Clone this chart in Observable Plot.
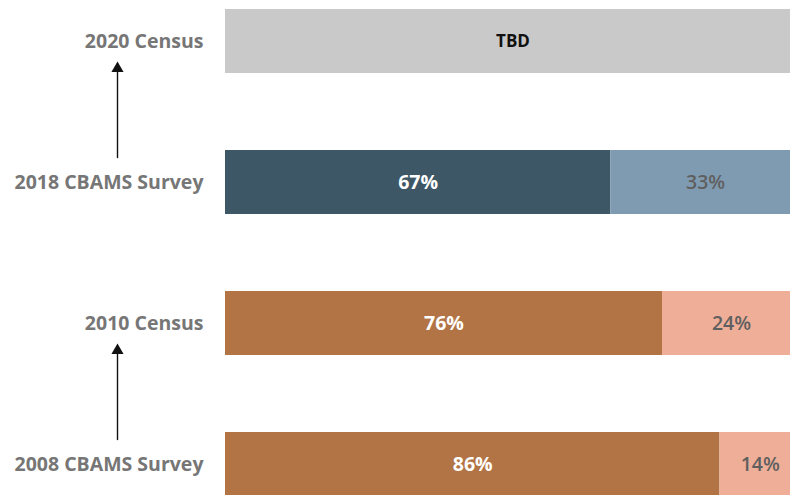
<!DOCTYPE html>
<html>
<head>
<meta charset="utf-8">
<script src="https://cdn.jsdelivr.net/npm/d3@7"></script>
<script src="https://cdn.jsdelivr.net/npm/@observablehq/plot@0.6"></script>
<style>
  html, body { margin: 0; padding: 0; background: #fff; overflow: hidden; }
  #chart svg { display: block; }
</style>
</head>
<body>
<div id="chart"></div>
<script>
// Rows (top to bottom)
const categories = ["2020 Census", "2018 CBAMS Survey", "2010 Census", "2008 CBAMS Survey"];
// First segment share, second segment share (null = TBD)
const firstShare  = [null, 0.67, 0.76, 0.86];
const secondShare = [null, 0.33, 0.24, 0.14];
const firstLabels  = ["TBD", "67%", "76%", "86%"];
const secondLabels = ["", "33%", "24%", "14%"];
const firstColors  = ["#c9c9c9", "#3d5766", "#b27445", "#b27445"];
const secondColors = ["#c9c9c9", "#7f9bb2", "#eeae97", "#eeae97"];
// Arrows: from row -> to row
const arrowFrom = ["2018 CBAMS Survey", "2008 CBAMS Survey"];
const arrowTo   = ["2020 Census", "2010 Census"];

const segs = [];
categories.forEach((c, i) => {
  if (firstShare[i] == null) {
    segs.push({cat: c, x1: 0, x2: 1, color: firstColors[i], label: firstLabels[i], kind: "tbd"});
  } else {
    segs.push({cat: c, x1: 0, x2: firstShare[i], color: firstColors[i], label: firstLabels[i], kind: "first"});
    segs.push({cat: c, x1: firstShare[i], x2: firstShare[i] + secondShare[i], color: secondColors[i], label: secondLabels[i], kind: "second"});
  }
});
const arrows = arrowFrom.map((f, i) => ({from: f, to: arrowTo[i]}));

const font = "'Open Sans', sans-serif";

const plot = Plot.plot({
  width: 790,
  height: 495,
  marginLeft: 0, marginRight: 0, marginTop: 0, marginBottom: 0,
  style: {fontFamily: font, background: "#fff"},
  x: {domain: [0, 1], range: [225, 800], axis: null},
  y: {domain: categories, range: [-68, 573], padding: 0.546, axis: null},
  marks: [
    Plot.rectX(segs, {x1: "x1", x2: "x2", y: "cat", fill: "color"}),
    Plot.text(segs.filter(d => d.kind === "first"), {
      x: d => (d.x1 + d.x2) / 2, y: "cat", text: "label",
      fill: "#ffffff", fontWeight: "bold", fontSize: 19.5
    }),
    Plot.text(segs.filter(d => d.kind === "second"), {
      x: d => (d.x1 + d.x2) / 2, y: "cat", text: "label",
      fill: "#5f5f5f", fontWeight: 600, fontSize: 19.5
    }),
    Plot.text(segs.filter(d => d.kind === "tbd"), {
      x: d => (d.x1 + d.x2) / 2, y: "cat", text: "label",
      fill: "#111", fontWeight: "bold", fontSize: 17
    }),
    // Row labels
    Plot.text(categories, {
      x: 0, y: d => d, text: d => d, textAnchor: "end", dx: -22,
      fill: "#767676", fontWeight: "bold", fontSize: 19.5
    }),
    // Arrows
    Plot.arrow(arrows, {
      x1: 0, x2: 0, y1: "from", y2: "to", dx: -108,
      stroke: "#111", strokeWidth: 1.4, headLength: 0,
      insetStart: 25, insetEnd: 28
    }),
    Plot.dot(arrows, {
      x: 0, y: "to", dx: -108, dy: 27, symbol: "triangle",
      r: 4.5, fill: "#111", stroke: null
    })
  ]
});
document.getElementById("chart").appendChild(plot);
</script>
</body>
</html>
